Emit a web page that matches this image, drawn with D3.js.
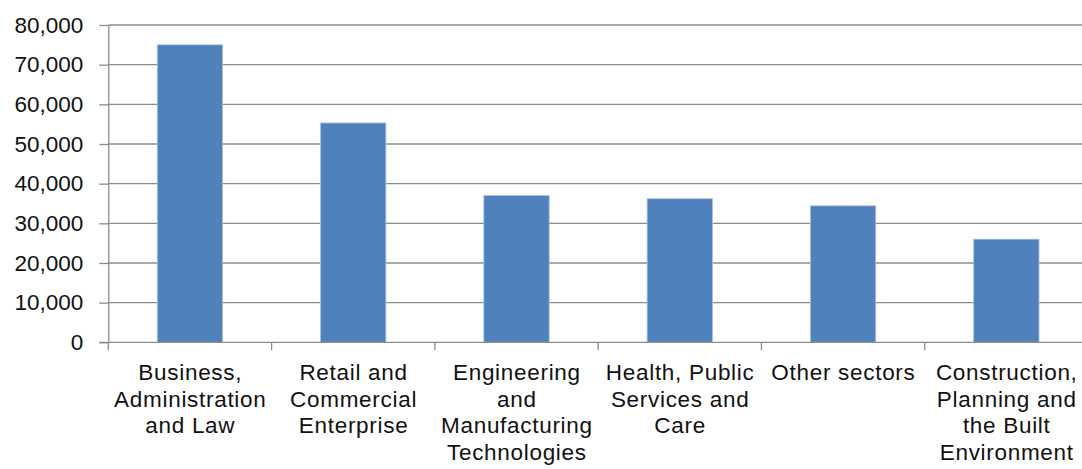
<!DOCTYPE html>
<html><head><meta charset="utf-8">
<script src="https://cdn.jsdelivr.net/npm/d3@7"></script>
<style>
html,body{margin:0;padding:0;background:#fff;}
text{font-family:"Liberation Sans",Arial,sans-serif;}
</style></head>
<body><svg id="c" width="1082" height="469"></svg>
<script>
const categories = ["Business, Administration and Law","Retail and Commercial Enterprise","Engineering and Manufacturing Technologies","Health, Public Services and Care","Other sectors","Construction, Planning and the Built Environment"];
const categoryLines = [["Business,","Administration","and Law"],["Retail and","Commercial","Enterprise"],["Engineering","and","Manufacturing","Technologies"],["Health, Public","Services and","Care"],["Other sectors"],["Construction,","Planning and","the Built","Environment"]];
const values = [75000, 55300, 37000, 36200, 34400, 26000];
const yTicks = [0,10000,20000,30000,40000,50000,60000,70000,80000];

const svg = d3.select("#c");
const mLeft = 108.3, mRight = 1088, mTop = 25, mBottom = 342.3;
const x = d3.scaleBand().domain(categories).range([mLeft, mRight]).paddingInner(0.6).paddingOuter(0.3);
const y = d3.scaleLinear().domain([0, 80000]).range([mBottom, mTop]);
const fmt = d3.format(",");

// gridlines + y axis
const ya = svg.append("g").attr("transform", `translate(${mLeft},0)`)
  .call(d3.axisLeft(y).tickValues(yTicks).tickFormat(fmt).tickSize(9).tickSizeOuter(0).tickPadding(16));
ya.select(".domain").attr("stroke", "#8c8c8c").attr("stroke-width", 1.3);
ya.selectAll(".tick line").attr("stroke", "#8c8c8c").attr("stroke-width", 1.3);
ya.selectAll(".tick text").attr("font-size", 22.5).attr("fill", "#111").style("font-family", "'Liberation Sans',Arial,sans-serif");
svg.append("g").selectAll("line").data(yTicks.filter(d => d > 0)).join("line")
  .attr("x1", mLeft).attr("x2", 1082).attr("y1", d => y(d)).attr("y2", d => y(d))
  .attr("stroke", "#8c8c8c").attr("stroke-width", 1.3);

// bars
svg.append("g").selectAll("rect").data(values).join("rect")
  .attr("x", (d, i) => x(categories[i])).attr("width", x.bandwidth())
  .attr("y", d => y(d)).attr("height", d => y(0) - y(d))
  .attr("fill", "#4f81bd").attr("stroke", "#a9c1e3").attr("stroke-width", 0.8);

// x axis
const step = x.step();
const xb = d3.scalePoint().domain(d3.range(categories.length + 1)).range([mLeft, mLeft + step * categories.length]);
svg.append("line").attr("x1", mLeft - 9).attr("x2", 1082).attr("y1", mBottom).attr("y2", mBottom)
  .attr("stroke", "#8c8c8c").attr("stroke-width", 1.3);
svg.append("g").selectAll("line").data(xb.domain()).join("line")
  .attr("x1", d => xb(d)).attr("x2", d => xb(d)).attr("y1", mBottom).attr("y2", mBottom + 8)
  .attr("stroke", "#8c8c8c").attr("stroke-width", 1.3);

const lab = svg.append("g").selectAll("text").data(categories).join("text")
  .attr("text-anchor", "middle").attr("font-size", 22.5).attr("fill", "#111")
  .attr("letter-spacing", 0.7)
  .attr("transform", d => `translate(${x(d) + x.bandwidth() / 2 + 0.35},380)`);
lab.each(function(d, i) {
  d3.select(this).selectAll("tspan").data(categoryLines[i]).join("tspan")
    .attr("x", 0).attr("y", (t, j) => j * 26.7).text(t => t);
});
</script></body></html>
